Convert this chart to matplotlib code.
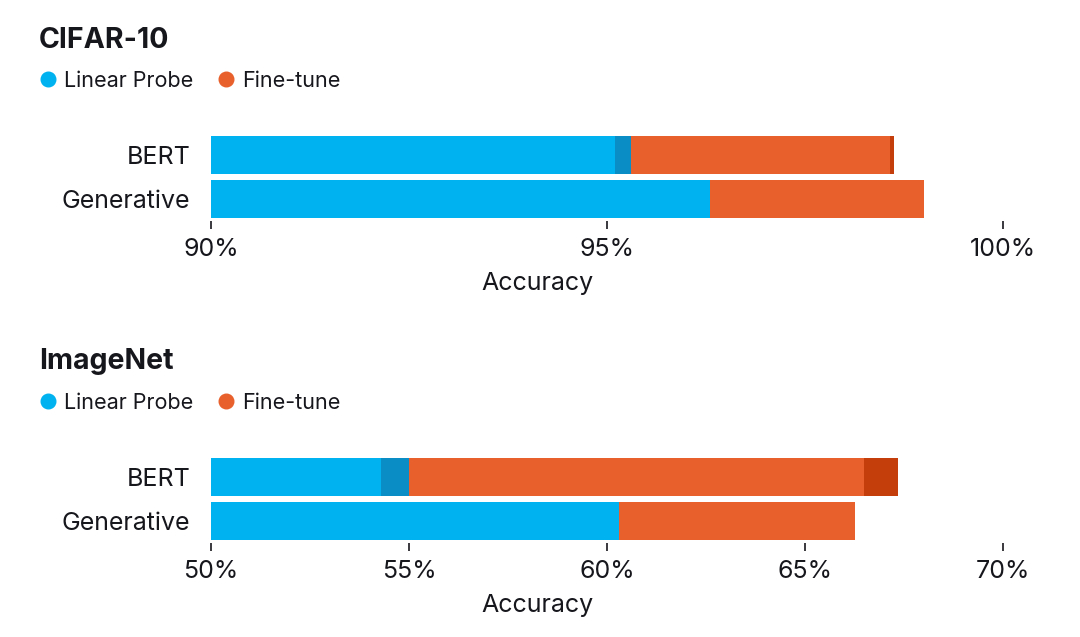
import matplotlib
matplotlib.use("Agg")
import matplotlib.pyplot as plt
from matplotlib.lines import Line2D

plt.rcParams['font.family'] = ['Inter', 'DejaVu Sans']

models = ['BERT', 'Generative']

# CIFAR-10 (percent)
cifar_probe = [95.1, 96.3]
cifar_probe_hi = [95.3, 96.3]
cifar_tune = [98.57, 99.0]
cifar_tune_hi = [98.62, 99.0]
cifar_ticks = [90, 95, 100]

# ImageNet (percent)
inet_probe = [54.3, 60.3]
inet_probe_hi = [55.0, 60.3]
inet_tune = [66.5, 66.25]
inet_tune_hi = [67.35, 66.25]
inet_ticks = [50, 55, 60, 65, 70]

BLUE = '#00b2ef'
DBLUE = '#0a8cc4'
ORANGE = '#e8602c'
DORANGE = '#c43e0c'
TXT = '#16161d'

W, H = 1080, 637
fig = plt.figure(figsize=(W / 100, H / 100), dpi=100)


def panel(top_px, title, probe, probe_hi, tune, tune_hi, ticks):
    # title and legend
    fig.text(39 / W, 1 - (top_px - 93) / H, title, fontsize=20.5, fontweight='bold',
             color=TXT, va='center', ha='left')
    ax = fig.add_axes([211 / W, 1 - (top_px + 88) / H, 792 / W, 88 / H])
    handles = [Line2D([], [], ls='none', marker='o', ms=10.5, color=BLUE, label='Linear Probe'),
               Line2D([], [], ls='none', marker='o', ms=10.5, color=ORANGE, label='Fine-tune')]
    fig.legend(handles=handles, loc='center left', bbox_to_anchor=(33 / W, 1 - (top_px - 52) / H),
               frameon=False, fontsize=15.5, handlelength=0.6, handletextpad=0.45,
               columnspacing=1.2, ncol=2, labelcolor=TXT, borderaxespad=0)

    lo = ticks[0]
    y = range(len(models))
    h = 0.88
    left = [lo] * len(models)
    ax.barh(y, [p - lo for p in probe], left=left, height=h, color=BLUE, lw=0)
    ax.barh(y, [b - a for a, b in zip(probe, probe_hi)], left=probe, height=h, color=DBLUE, lw=0)
    ax.barh(y, [b - a for a, b in zip(probe_hi, tune)], left=probe_hi, height=h, color=ORANGE, lw=0)
    ax.barh(y, [b - a for a, b in zip(tune, tune_hi)], left=tune, height=h, color=DORANGE, lw=0)

    ax.set_xlim(ticks[0], ticks[-1])
    ax.set_ylim(1.5, -0.5)
    ax.set_xticks(ticks)
    ax.set_xticklabels([f'{t}%' for t in ticks])
    ax.set_yticks(list(y))
    ax.set_yticklabels(models)
    for s in ax.spines.values():
        s.set_visible(False)
    ax.tick_params(axis='x', length=6, width=1.2, color=TXT, pad=6, labelsize=18, labelcolor=TXT)
    ax.tick_params(axis='y', length=0, pad=15, labelsize=18, labelcolor=TXT)
    ax.set_xlabel('Accuracy', fontsize=18, color=TXT)
    ax.xaxis.set_label_coords((537 - 211) / 792, -0.58)
    return ax


panel(133, 'CIFAR-10', cifar_probe, cifar_probe_hi, cifar_tune, cifar_tune_hi, cifar_ticks)
panel(455, 'ImageNet', inet_probe, inet_probe_hi, inet_tune, inet_tune_hi, inet_ticks)

fig.savefig('out.png', dpi=100, facecolor='white')
